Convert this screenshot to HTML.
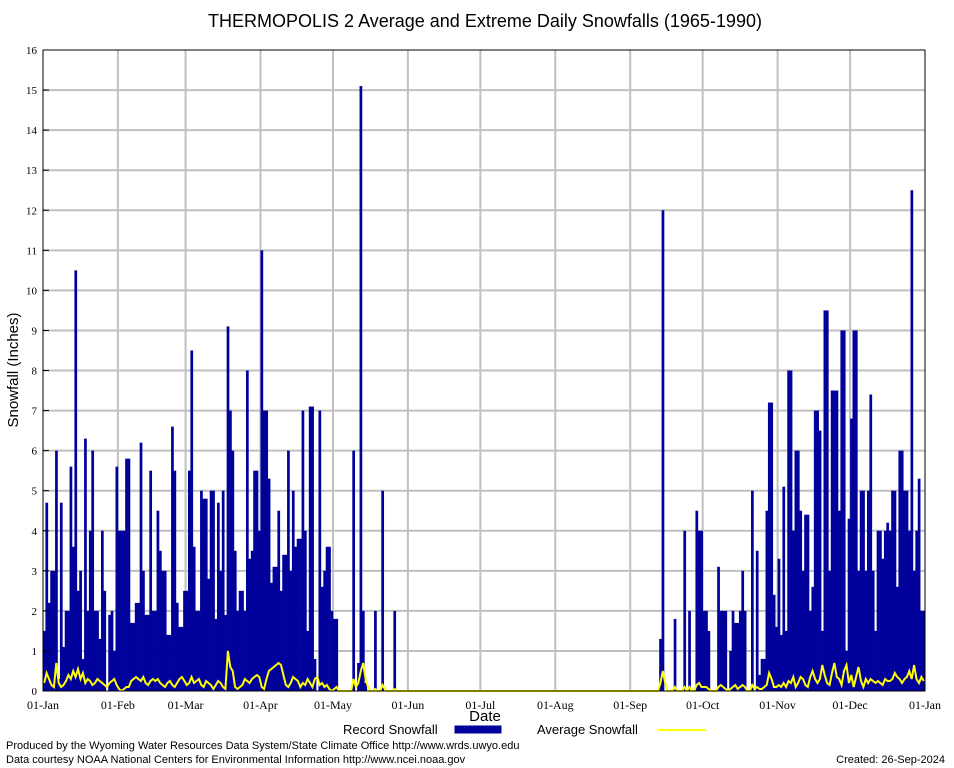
<!DOCTYPE html>
<html><head><meta charset="utf-8"><style>
body{margin:0;background:#fff;width:954px;height:768px;overflow:hidden}
svg{display:block}
</style></head><body>
<svg id="chart" width="954" height="768" xmlns="http://www.w3.org/2000/svg" font-family="'Liberation Sans', sans-serif">
<rect width="954" height="768" fill="#fff"/>
<text x="485" y="27" font-size="18" text-anchor="middle">THERMOPOLIS 2 Average and Extreme Daily Snowfalls (1965-1990)</text>
<g id="grid"></g>
<g id="bars"></g>
<polyline id="avgline" fill="none" stroke="#ffff00" stroke-width="2"/>
<rect x="43" y="50" width="882" height="641" fill="none" stroke="#000" stroke-width="1"/>
<g id="yticks" font-family="'Liberation Serif', serif" font-size="11"></g>
<g id="xticks" font-family="'Liberation Serif', serif" font-size="12"></g>
<text transform="translate(18,370) rotate(-90)" font-size="15" text-anchor="middle">Snowfall (Inches)</text>
<text x="485" y="721" font-size="15" text-anchor="middle">Date</text>
<g>
<text x="343" y="734" font-size="13">Record Snowfall</text>
<rect x="455" y="726" width="46" height="7" fill="#00009a" stroke="#00009a"/>
<text x="537" y="734" font-size="13">Average Snowfall</text>
<line x1="658" y1="730" x2="706" y2="730" stroke="#ffff00" stroke-width="2"/>
</g>
<text x="6" y="749" font-size="11">Produced by the Wyoming Water Resources Data System/State Climate Office http://www.wrds.uwyo.edu</text>
<text x="6" y="763" font-size="11">Data courtesy NOAA National Centers for Environmental Information http://www.ncei.noaa.gov</text>
<text x="945" y="763" font-size="11" text-anchor="end">Created:  26-Sep-2024</text>
</svg>
<script>
const monthLabels=["01-Jan","01-Feb","01-Mar","01-Apr","01-May","01-Jun","01-Jul","01-Aug","01-Sep","01-Oct","01-Nov","01-Dec","01-Jan"];
const monthStarts=[0,31,59,90,120,151,181,212,243,273,304,334,365];
const yTicks=[0,1,2,3,4,5,6,7,8,9,10,11,12,13,14,15,16];
const recJan=[1.5,4.7,2.2,3.0,3.0,6.0,0.3,4.7,1.1,2.0,2.0,5.6,3.6,10.5,2.5,3.0,0.8,6.3,2.0,4.0,6.0,2.0,2.0,1.3,4.0,2.5,0,1.9,2.0,1.0,5.6];
const recFeb=[4.0,4.0,4.0,5.8,5.8,1.7,1.7,2.2,2.2,6.2,3.0,1.9,1.9,5.5,2.0,2.0,4.5,3.5,3.0,3.0,1.4,1.4,6.6,5.5,2.2,1.6,1.6,2.5];
const recMar=[2.5,5.5,8.5,3.6,2.0,2.0,5.0,4.8,4.8,2.8,5.0,5.0,1.8,4.7,3.0,5.0,1.9,9.1,7.0,6.0,3.5,2.0,2.5,2.5,2.0,8.0,3.3,3.5,5.5,5.5,4.0];
const recApr=[11.0,7.0,7.0,5.3,2.7,3.1,3.1,4.5,2.5,3.4,3.4,6.0,3.0,5.0,3.6,3.8,3.8,7.0,4.0,1.5,7.1,7.1,0.8,0,7.0,2.6,3.0,3.6,3.6,2.0];
const recMay=[1.8,1.8,0,0,0,0,0,0,6.0,0,0.7,15.1,2.0,0.2,0,0,0,2.0,0,0,5.0,0,0,0,0,2.0,0,0,0,0,0];
const recJun=[0,0,0,0,0,0,0,0,0,0,0,0,0,0,0,0,0,0,0,0,0,0,0,0,0,0,0,0,0,0];
const recJul=[0,0,0,0,0,0,0,0,0,0,0,0,0,0,0,0,0,0,0,0,0,0,0,0,0,0,0,0,0,0,0];
const recAug=[0,0,0,0,0,0,0,0,0,0,0,0,0,0,0,0,0,0,0,0,0,0,0,0,0,0,0,0,0,0,0];
const recSep=[0,0,0,0,0,0,0,0,0,0,0,0,1.3,12.0,0,0,0,0,1.8,0,0,0,4.0,0,2.0,0,0,4.5,4.0,4.0];
const recOct=[2.0,2.0,1.5,0,0,0,3.1,2.0,2.0,2.0,0,1.0,2.0,1.7,1.7,2.0,3.0,2.0,0,0,5.0,0,3.5,0.4,0.8,0.8,4.5,7.2,7.2,2.4,1.6];
const recNov=[3.3,1.4,5.1,1.5,8.0,8.0,4.0,6.0,6.0,4.5,3.0,4.4,4.4,2.0,2.6,7.0,7.0,6.5,1.5,9.5,9.5,3.0,7.5,7.5,7.5,4.5,9.0,9.0,1.0,4.3];
const recDec=[6.8,9.0,9.0,3.0,5.0,5.0,3.0,5.0,7.4,3.0,1.5,4.0,4.0,3.3,4.0,4.2,4.0,5.0,5.0,2.6,6.0,6.0,5.0,5.0,4.0,12.5,3.0,4.0,5.3,2.0,2.0];
const avgJan=[.2,.45,.3,.15,.1,.7,.2,.1,.15,.25,.4,.3,.5,.35,.55,.3,.45,.2,.3,.25,.15,.2,.3,.25,.2,.15,.1,.2,.25,.3,.15];
const avgFeb=[.05,0,.05,.1,.1,.25,.3,.35,.3,.25,.35,.2,.15,.25,.3,.25,.3,.2,.15,.1,.2,.25,.15,.1,.2,.3,.35,.25];
const avgMar=[.15,.2,.35,.2,.25,.3,.15,.1,.25,.2,.15,.05,.15,.25,.2,.1,.05,1.0,.6,.5,.1,.05,.1,.15,.3,.25,.2,.3,.35,.4,.35];
const avgApr=[.1,.05,.3,.5,.55,.6,.65,.7,.65,.4,.15,.1,.2,.35,.3,.25,.1,.2,.15,.3,.2,.1,.3,.35,.15,.2,.1,.15,.05,0];
const avgMay=[.05,.1,0,0,0,0,0,0,.3,.1,.2,.5,.7,.3,.1,0,0,.05,0,0,.15,.05,0,0,0,.05,0,0,0,0,0];
const avgSep=[0,0,0,0,0,0,0,0,0,0,0,0,.2,.5,.2,0,0,0,.1,0,0,0,.1,0,.1,0,0,.15,.2,.1];
const avgOct=[.1,.1,.05,0,0,0,.1,.15,.1,.05,0,.05,.1,.15,.05,.1,.15,.1,0,0,.15,.05,.1,.05,.05,.1,.15,.45,.3,.1,.1];
const avgNov=[.15,.1,.2,.1,.25,.2,.35,.1,.2,.35,.3,.15,.1,.35,.5,.3,.2,.3,.65,.4,.2,.15,.45,.7,.35,.3,.15,.5,.65,.2];
const avgDec=[.4,.1,.35,.6,.25,.1,.3,.2,.3,.25,.2,.25,.2,.15,.3,.25,.25,.3,.45,.35,.3,.2,.3,.35,.5,.3,.65,.3,.2,.35,.25];

const record=[].concat(recJan,recFeb,recMar,recApr,recMay,recJun,recJul,recAug,recSep,recOct,recNov,recDec);
const zeros92=new Array(92).fill(0);
const average=[].concat(avgJan,avgFeb,avgMar,avgApr,avgMay,zeros92,avgSep,avgOct,avgNov,avgDec);

const NS="http://www.w3.org/2000/svg";
const X0=43,X1=925,Y0=691,Y1=50,DAYS=365,YMAX=16;
function xScale(d){return X0+(X1-X0)*d/DAYS;}
function yScale(v){return Y0-(Y0-Y1)*v/YMAX;}
function mk(tag,attrs,parent){const e=document.createElementNS(NS,tag);for(const k in attrs)e.setAttribute(k,attrs[k]);parent.appendChild(e);return e;}

const grid=document.getElementById('grid');
yTicks.forEach(t=>{
  if(t>0&&t<YMAX){const l=mk('line',{x1:X0,x2:X1,y1:yScale(t),y2:yScale(t),stroke:'#c0c0c0','stroke-width':2},grid);
  
  }
  const tk=mk('line',{x1:X0,x2:X0+6,y1:yScale(t),y2:yScale(t),stroke:'#000'},document.getElementById('yticks'));
  
  
  const tx=mk('text',{x:X0-6,y:yScale(t)+4,'text-anchor':'end'},document.getElementById('yticks'));
  tx.textContent=t;
  
  
});
monthStarts.forEach((d,i)=>{
  if(d>0&&d<DAYS){const l=mk('line',{x1:xScale(d),x2:xScale(d),y1:Y1,y2:Y0,stroke:'#c0c0c0','stroke-width':2},grid);
  
  }
  const tx=mk('text',{x:xScale(d),y:709,'text-anchor':'middle'},document.getElementById('xticks'));
  tx.textContent=monthLabels[i];
  
  
});
const bars=document.getElementById('bars');
const bw=(X1-X0)/DAYS;
record.forEach((v,d)=>{
  if(v<=0)return;
  const r=mk('rect',{x:xScale(d),y:yScale(v),width:bw+0.3,height:Y0-yScale(v),fill:'#00009a'},bars);
  
  
});
document.getElementById('avgline').setAttribute('points',average.map((v,d)=>(xScale(d)+bw/2).toFixed(1)+','+yScale(v).toFixed(1)).join(' '));
</script>
</body></html>
